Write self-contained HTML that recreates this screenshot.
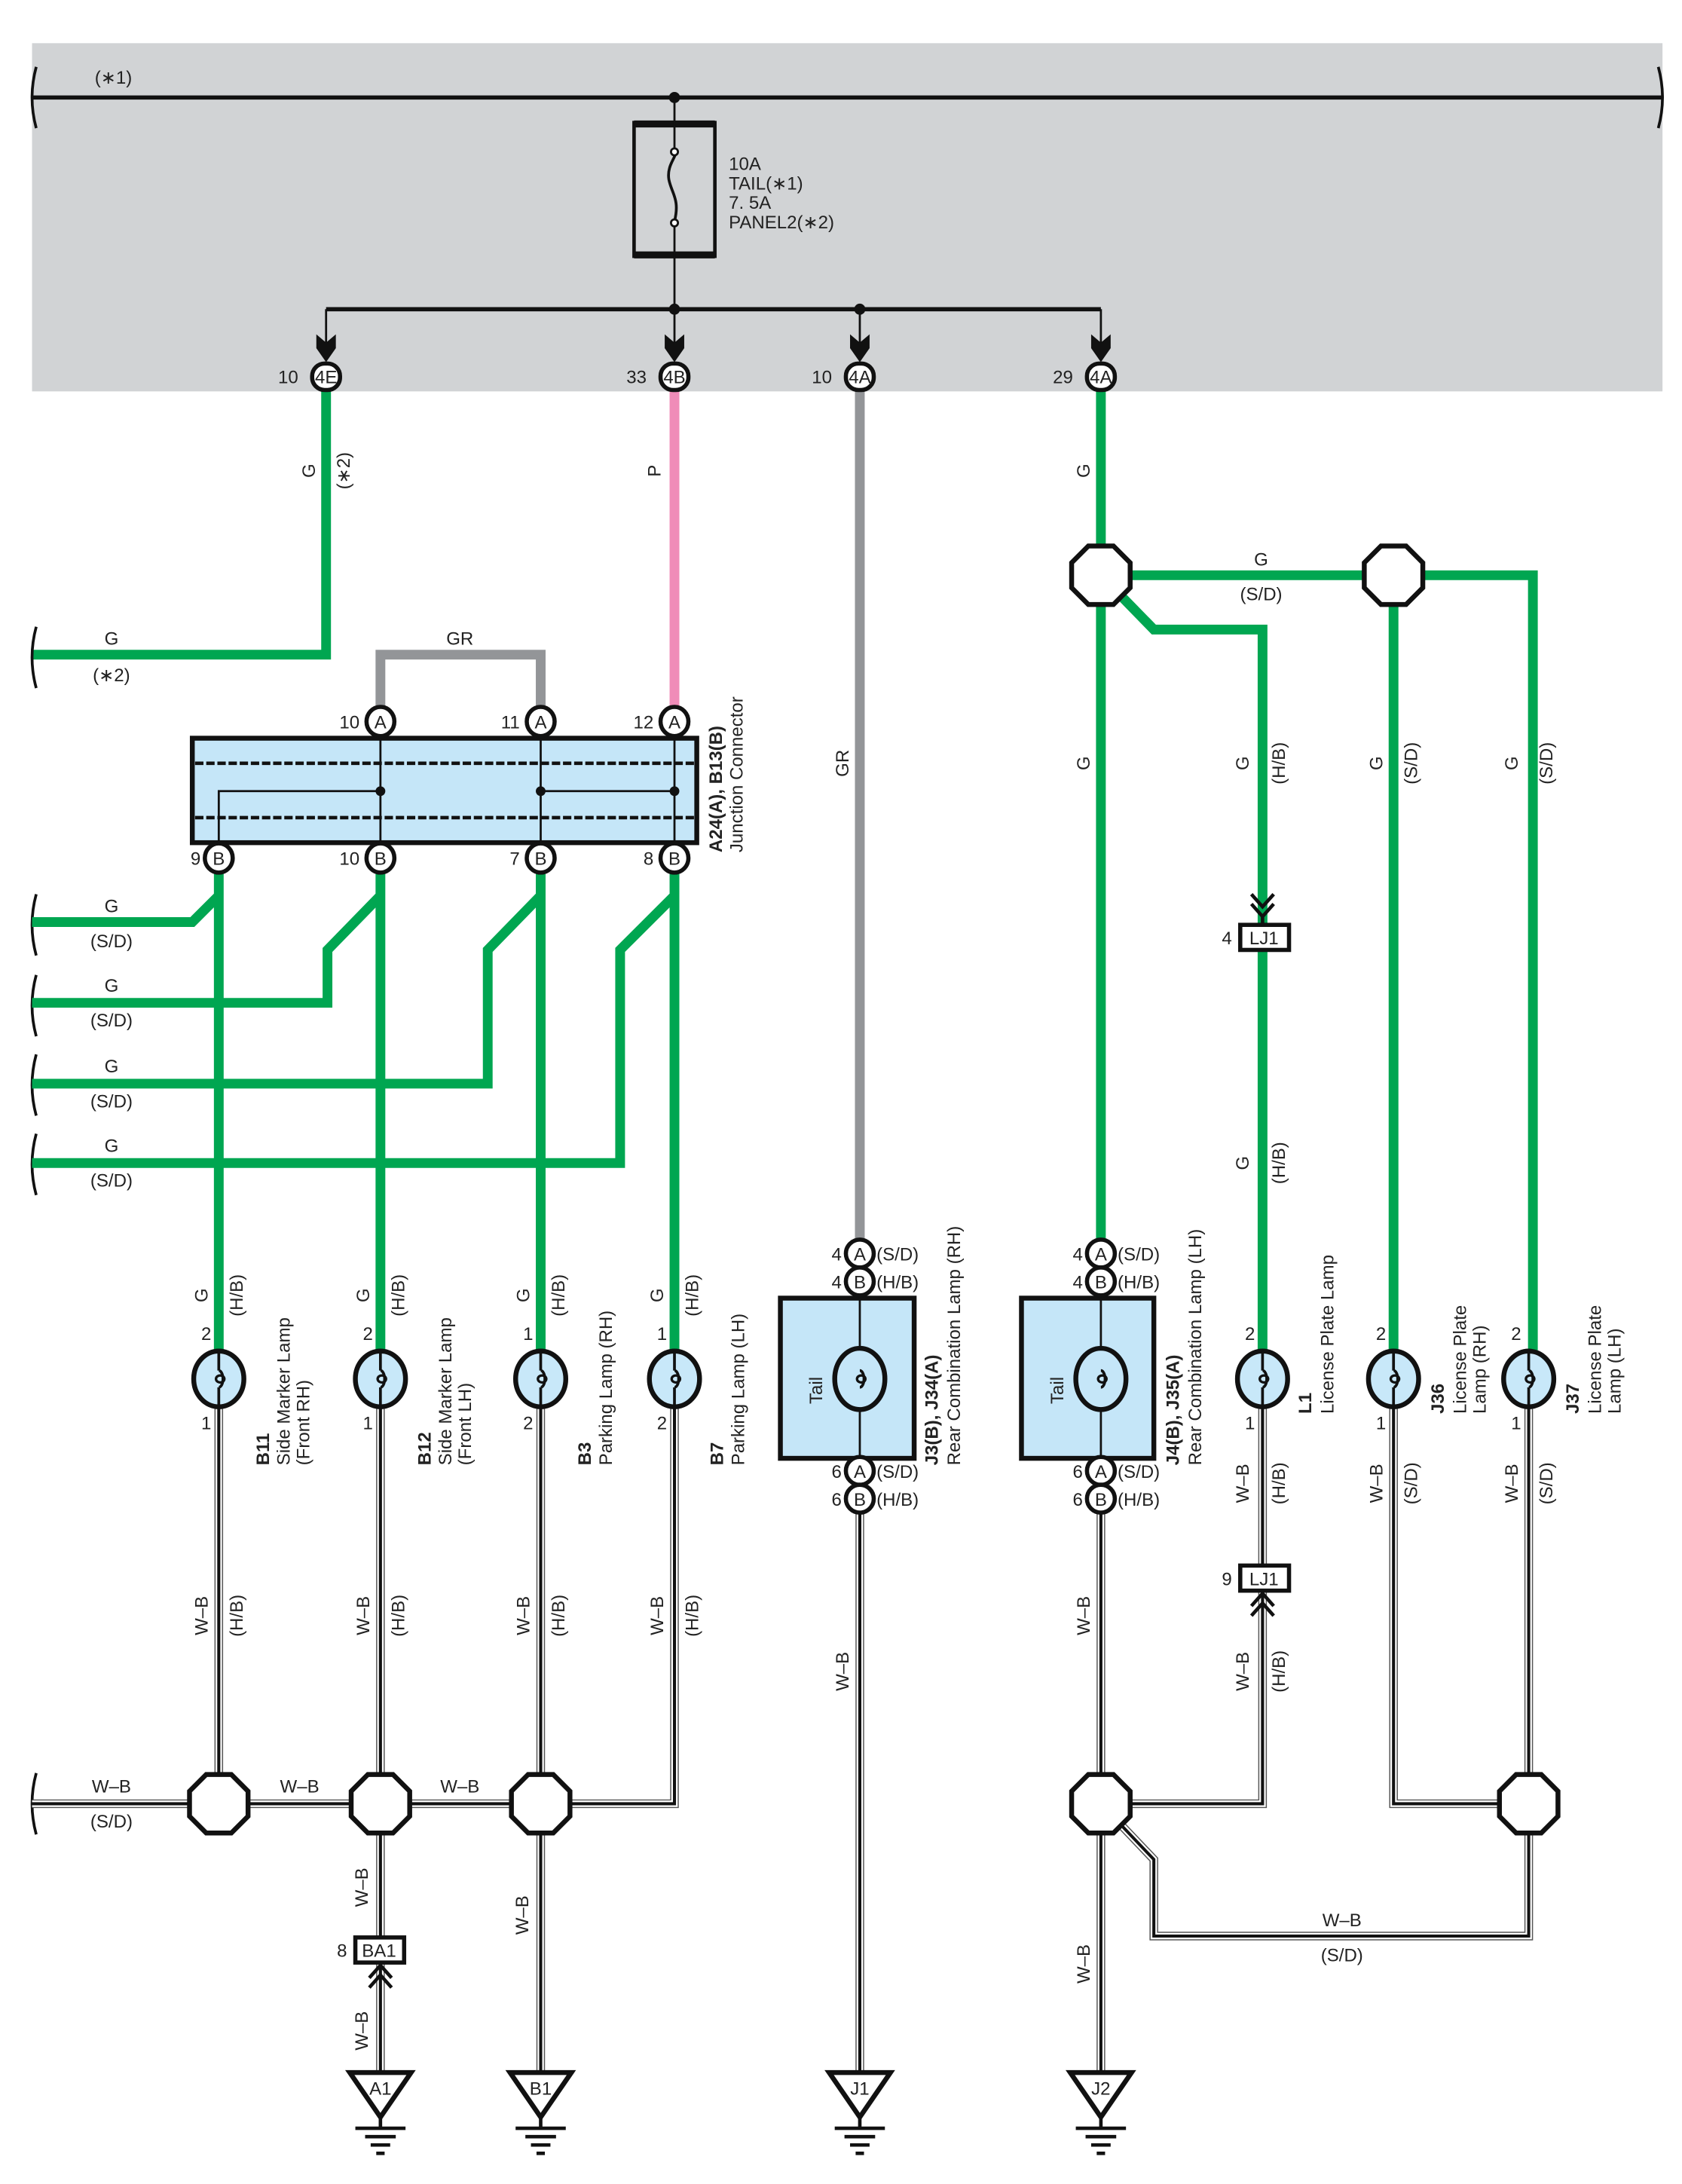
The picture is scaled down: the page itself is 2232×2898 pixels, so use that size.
<!DOCTYPE html>
<html><head><meta charset="utf-8"><style>
html,body{margin:0;padding:0;background:#fff}
svg{display:block}
text{font-family:"Liberation Sans",sans-serif;font-size:13px;fill:#222}
.b{font-weight:bold}
.m{text-anchor:middle}
.g{stroke:#00a651;stroke-width:7;fill:none;stroke-linejoin:miter}
.wo{stroke:#555;stroke-width:6.2;fill:none}
.ww{stroke:#fff;stroke-width:4.6;fill:none}
.wc{stroke:#111;stroke-width:2.2;fill:none}
.k{stroke:#111;fill:none}
</style></head><body>
<svg width="2232" height="2898" viewBox="0 0 1207 1568" preserveAspectRatio="none" xmlns="http://www.w3.org/2000/svg">
<defs>
<polygon id="oct" points="-9,-21 9,-21 21,-9 21,9 9,21 -9,21 -21,9 -21,-9" fill="#fff" stroke="#111" stroke-width="3.5"/>
<g id="lamp"><ellipse rx="18" ry="20" fill="#c8e8f9" stroke="#111" stroke-width="3.5"/><path d="M0,-20 V-6 M0,6 V20 M0,-6 a3,6 0 1 1 0,12" stroke="#111" stroke-width="2" fill="none"/><ellipse cx="1" cy="0" rx="3" ry="2.5" fill="none" stroke="#111" stroke-width="1.8"/></g>
<g id="gnd"><path d="M-22,0 H22 L0,32 Z" fill="#fff" stroke="#111" stroke-width="3.5" stroke-linejoin="miter"/><path d="M0,32 V40 M-18,40 H18 M-11,46 H11 M-7,52 H7 M-3,58 H3" stroke="#111" stroke-width="2.5"/></g>
<path id="w1" d="M157,1010 V1295"/>
<path id="w2" d="M273,1010 V1490"/>
<path id="w3" d="M388,1010 V1490"/>
<path id="w4" d="M484,1010 V1295 H388"/>
<path id="w5" d="M23,1295 H388"/>
<path id="w6" d="M617,1086 V1490"/>
<path id="w7" d="M790,1086 V1490"/>
<path id="w8" d="M906,1010 V1124 M906,1142 V1295 H790"/>
<path id="w9" d="M790,1295 L828,1335 V1390 H1097 V1295"/>
<path id="w10" d="M1000,1010 V1295 H1097"/>
<path id="w11" d="M1097,1010 V1295"/>
</defs>

<rect x="23" y="31" width="1170" height="250" fill="#d1d3d5"/>
<path d="M23,70 H1193" stroke="#111" stroke-width="3"/>
<path d="M26,48 q-6,22 0,44 M1190,48 q6,22 0,44" class="k" stroke-width="2"/>
<text x="68" y="60">(∗1)</text>
<circle cx="484" cy="70" r="4" fill="#111"/>
<rect x="455" y="88" width="58" height="96" fill="none" stroke="#111" stroke-width="2.5"/>
<path d="M455,89 H513 M455,183 H513" stroke="#111" stroke-width="5"/>
<path d="M484,70 V107 M484,163 V222" stroke="#111" stroke-width="1.5"/>
<path d="M484,107 c4,4 -6,10 -4,22 c2,10 8,14 4,30" class="k" stroke-width="2"/>
<circle cx="484" cy="109" r="2.5" fill="#fff" stroke="#111" stroke-width="1.5"/>
<circle cx="484" cy="160" r="2.5" fill="#fff" stroke="#111" stroke-width="1.5"/>
<text x="523" y="122">10A</text><text x="523" y="136">TAIL(∗1)</text><text x="523" y="150">7. 5A</text><text x="523" y="164">PANEL2(∗2)</text>
<path d="M234,222 H790" stroke="#111" stroke-width="3"/>
<circle cx="484" cy="222" r="4" fill="#111"/><circle cx="617" cy="222" r="4" fill="#111"/>
<path d="M234,222 V258 M484,222 V258 M617,222 V258 M790,222 V258" stroke="#111" stroke-width="1.5"/>
<path d="M227,240 L234,246 L241,240 L241,250 L234,260 L227,250 Z M477,240 L484,246 L491,240 L491,250 L484,260 L477,250 Z M610,240 L617,246 L624,240 L624,250 L617,260 L610,250 Z M783,240 L790,246 L797,240 L797,250 L790,260 L783,250 Z" fill="#111"/>

<path class="g" d="M234,280 V470 H23"/>
<path d="M484,280 V510" stroke="#f08cb8" stroke-width="7"/>
<path d="M617,280 V890" stroke="#939598" stroke-width="7"/>
<path d="M273,510 V470 H388 V510" stroke="#939598" stroke-width="7" fill="none"/>
<path class="g" d="M790,280 V890"/>
<path class="g" d="M790,413 H1100 V970"/>
<path class="g" d="M1000,413 V970"/>
<path class="g" d="M790,413 L828,452 H906 V970"/>
<path d="M26,450 q-6,22 0,44 M26,642 q-6,22 0,44 M26,700 q-6,22 0,44 M26,757 q-6,22 0,44 M26,814 q-6,22 0,44 M26,1273 q-6,22 0,44" class="k" stroke-width="2"/>
<path class="g" d="M157,616 V970 M157,643 L138,662 H23"/>
<path class="g" d="M273,616 V970 M273,643 L235,682 V720 H23"/>
<path class="g" d="M388,616 V970 M388,643 L350,682 V778 H23"/>
<path class="g" d="M484,616 V970 M484,643 L445,682 V835 H23"/>

<rect x="138" y="530" width="362" height="75" fill="#c5e6f8" stroke="#111" stroke-width="3.5"/>
<path d="M140,548 H498 M140,587 H498" stroke="#111" stroke-width="2.5" stroke-dasharray="6,2"/>
<path d="M273,518 V616 M388,518 V616 M484,518 V616 M157,616 V568 H273 M388,568 H484" stroke="#111" stroke-width="1.5" fill="none"/>
<circle cx="273" cy="568" r="3.5" fill="#111"/><circle cx="388" cy="568" r="3.5" fill="#111"/><circle cx="484" cy="568" r="3.5" fill="#111"/>

<g>
<use href="#w1" class="wo"/><use href="#w2" class="wo"/><use href="#w3" class="wo"/><use href="#w4" class="wo"/><use href="#w5" class="wo"/><use href="#w6" class="wo"/><use href="#w7" class="wo"/><use href="#w8" class="wo"/><use href="#w9" class="wo"/><use href="#w10" class="wo"/><use href="#w11" class="wo"/>
<use href="#w1" class="ww"/><use href="#w2" class="ww"/><use href="#w3" class="ww"/><use href="#w4" class="ww"/><use href="#w5" class="ww"/><use href="#w6" class="ww"/><use href="#w7" class="ww"/><use href="#w8" class="ww"/><use href="#w9" class="ww"/><use href="#w10" class="ww"/><use href="#w11" class="ww"/>
<use href="#w1" class="wc"/><use href="#w2" class="wc"/><use href="#w3" class="wc"/><use href="#w4" class="wc"/><use href="#w5" class="wc"/><use href="#w6" class="wc"/><use href="#w7" class="wc"/><use href="#w8" class="wc"/><use href="#w9" class="wc"/><use href="#w10" class="wc"/><use href="#w11" class="wc"/>
</g>

<use href="#oct" x="790" y="413"/><use href="#oct" x="1000" y="413"/>
<use href="#oct" x="157" y="1295"/><use href="#oct" x="273" y="1295"/><use href="#oct" x="388" y="1295"/>
<use href="#oct" x="790" y="1295"/><use href="#oct" x="1097" y="1295"/>

<use href="#lamp" x="157" y="990"/><use href="#lamp" x="273" y="990"/><use href="#lamp" x="388" y="990"/><use href="#lamp" x="484" y="990"/>
<use href="#lamp" x="906" y="990"/><use href="#lamp" x="1000" y="990"/><use href="#lamp" x="1097" y="990"/>
<text x="148" y="962" class="m">2</text><text x="148" y="1026" class="m">1</text>
<text x="264" y="962" class="m">2</text><text x="264" y="1026" class="m">1</text>
<text x="379" y="962" class="m">1</text><text x="379" y="1026" class="m">2</text>
<text x="475" y="962" class="m">1</text><text x="475" y="1026" class="m">2</text>
<text x="897" y="962" class="m">2</text><text x="897" y="1026" class="m">1</text>
<text x="991" y="962" class="m">2</text><text x="991" y="1026" class="m">1</text>
<text x="1088" y="962" class="m">2</text><text x="1088" y="1026" class="m">1</text>

<rect x="560" y="932" width="96" height="115" fill="#c5e6f8" stroke="#111" stroke-width="3.5"/>
<rect x="733" y="932" width="95" height="115" fill="#c5e6f8" stroke="#111" stroke-width="3.5"/>
<path d="M617,910 V1066 M790,910 V1066" stroke="#111" stroke-width="1.5"/>
<g transform="translate(617,990)"><ellipse rx="18" ry="22" fill="#c5e6f8" stroke="#111" stroke-width="3.5"/><path d="M0,-6 a3,6 0 1 1 0,12" stroke="#111" stroke-width="2" fill="#c5e6f8"/><ellipse cx="1" rx="3" ry="2.5" fill="none" stroke="#111" stroke-width="1.8"/></g>
<g transform="translate(790,990)"><ellipse rx="18" ry="22" fill="#c5e6f8" stroke="#111" stroke-width="3.5"/><path d="M0,-6 a3,6 0 1 1 0,12" stroke="#111" stroke-width="2" fill="#c5e6f8"/><ellipse cx="1" rx="3" ry="2.5" fill="none" stroke="#111" stroke-width="1.8"/></g>
<text transform="translate(590,1008) rotate(-90)">Tail</text>
<text transform="translate(763,1008) rotate(-90)">Tail</text>

<g fill="#fff" stroke="#111" stroke-width="3">
<rect x="224" y="261" width="20" height="19" rx="9"/><rect x="474" y="261" width="20" height="19" rx="9"/><rect x="607" y="261" width="20" height="19" rx="9"/><rect x="780" y="261" width="20" height="19" rx="9"/>
<ellipse cx="273" cy="518" rx="10" ry="10.5"/><ellipse cx="388" cy="518" rx="10" ry="10.5"/><ellipse cx="484" cy="518" rx="10" ry="10.5"/>
<ellipse cx="157" cy="616" rx="10" ry="10.5"/><ellipse cx="273" cy="616" rx="10" ry="10.5"/><ellipse cx="388" cy="616" rx="10" ry="10.5"/><ellipse cx="484" cy="616" rx="10" ry="10.5"/>
<ellipse cx="617" cy="900" rx="10" ry="10"/><ellipse cx="617" cy="920" rx="10" ry="10"/><ellipse cx="617" cy="1056" rx="10" ry="10"/><ellipse cx="617" cy="1076" rx="10" ry="10"/>
<ellipse cx="790" cy="900" rx="10" ry="10"/><ellipse cx="790" cy="920" rx="10" ry="10"/><ellipse cx="790" cy="1056" rx="10" ry="10"/><ellipse cx="790" cy="1076" rx="10" ry="10"/>
<rect x="890" y="664" width="35" height="18"/><rect x="890" y="1124" width="35" height="18"/><rect x="255" y="1391" width="35" height="18"/>
</g>
<g class="m">
<text x="234" y="275">4E</text><text x="484" y="275">4B</text><text x="617" y="275">4A</text><text x="790" y="275">4A</text>
<text x="273" y="523">A</text><text x="388" y="523">A</text><text x="484" y="523">A</text>
<text x="157" y="621">B</text><text x="273" y="621">B</text><text x="388" y="621">B</text><text x="484" y="621">B</text>
<text x="617" y="905">A</text><text x="617" y="925">B</text><text x="617" y="1061">A</text><text x="617" y="1081">B</text>
<text x="790" y="905">A</text><text x="790" y="925">B</text><text x="790" y="1061">A</text><text x="790" y="1081">B</text>
<text x="907" y="678">LJ1</text><text x="907" y="1138">LJ1</text><text x="272" y="1405">BA1</text>
</g>
<g style="text-anchor:end">
<text x="214" y="275">10</text><text x="464" y="275">33</text><text x="597" y="275">10</text><text x="770" y="275">29</text>
<text x="258" y="523">10</text><text x="373" y="523">11</text><text x="469" y="523">12</text>
<text x="144" y="621">9</text><text x="258" y="621">10</text><text x="373" y="621">7</text><text x="469" y="621">8</text>
<text x="604" y="905">4</text><text x="604" y="925">4</text><text x="604" y="1061">6</text><text x="604" y="1081">6</text>
<text x="777" y="905">4</text><text x="777" y="925">4</text><text x="777" y="1061">6</text><text x="777" y="1081">6</text>
<text x="884" y="678">4</text><text x="884" y="1138">9</text><text x="249" y="1405">8</text>
</g>
<text x="629" y="905">(S/D)</text><text x="629" y="925">(H/B)</text><text x="629" y="1061">(S/D)</text><text x="629" y="1081">(H/B)</text>
<text x="802" y="905">(S/D)</text><text x="802" y="925">(H/B)</text><text x="802" y="1061">(S/D)</text><text x="802" y="1081">(H/B)</text>

<path d="M898,642 L906,651 L914,642 M898,649 L906,658 L914,649 M906,658 V664" stroke="#111" stroke-width="2.5" fill="none"/>
<path d="M898,1160 L906,1151 L914,1160 M898,1153 L906,1144 L914,1153" stroke="#111" stroke-width="2.5" fill="none"/>
<path d="M265,1427 L273,1418 L281,1427 M265,1420 L273,1411 L281,1420" stroke="#111" stroke-width="2.5" fill="none"/>

<use href="#gnd" x="273" y="1488"/><use href="#gnd" x="388" y="1488"/><use href="#gnd" x="617" y="1488"/><use href="#gnd" x="790" y="1488"/>
<g class="m"><text x="273" y="1504">A1</text><text x="388" y="1504">B1</text><text x="617" y="1504">J1</text><text x="790" y="1504">J2</text></g>

<g class="m">
<text x="80" y="463">G</text><text x="80" y="489">(∗2)</text>
<text x="330" y="463">GR</text>
<text x="80" y="655">G</text><text x="80" y="680">(S/D)</text>
<text x="80" y="712">G</text><text x="80" y="737">(S/D)</text>
<text x="80" y="770">G</text><text x="80" y="795">(S/D)</text>
<text x="80" y="827">G</text><text x="80" y="852">(S/D)</text>
<text x="905" y="406">G</text><text x="905" y="431">(S/D)</text>
<text x="80" y="1287">W–B</text><text x="80" y="1312">(S/D)</text>
<text x="215" y="1287">W–B</text><text x="330" y="1287">W–B</text>
<text x="963" y="1383">W–B</text><text x="963" y="1408">(S/D)</text>
</g>

<g class="m">
<text transform="translate(226,338) rotate(-90)">G</text><text transform="translate(251,338) rotate(-90)">(∗2)</text>
<text transform="translate(474,338) rotate(-90)">P</text>
<text transform="translate(609,548) rotate(-90)">GR</text>
<text transform="translate(782,338) rotate(-90)">G</text>
<text transform="translate(782,548) rotate(-90)">G</text>
<text transform="translate(896,548) rotate(-90)">G</text><text transform="translate(922,548) rotate(-90)">(H/B)</text>
<text transform="translate(992,548) rotate(-90)">G</text><text transform="translate(1017,548) rotate(-90)">(S/D)</text>
<text transform="translate(1089,548) rotate(-90)">G</text><text transform="translate(1114,548) rotate(-90)">(S/D)</text>
<text transform="translate(896,835) rotate(-90)">G</text><text transform="translate(922,835) rotate(-90)">(H/B)</text>
<text transform="translate(149,930) rotate(-90)">G</text><text transform="translate(174,930) rotate(-90)">(H/B)</text>
<text transform="translate(265,930) rotate(-90)">G</text><text transform="translate(290,930) rotate(-90)">(H/B)</text>
<text transform="translate(380,930) rotate(-90)">G</text><text transform="translate(405,930) rotate(-90)">(H/B)</text>
<text transform="translate(476,930) rotate(-90)">G</text><text transform="translate(501,930) rotate(-90)">(H/B)</text>
<text transform="translate(149,1160) rotate(-90)">W–B</text><text transform="translate(174,1160) rotate(-90)">(H/B)</text>
<text transform="translate(265,1160) rotate(-90)">W–B</text><text transform="translate(290,1160) rotate(-90)">(H/B)</text>
<text transform="translate(380,1160) rotate(-90)">W–B</text><text transform="translate(405,1160) rotate(-90)">(H/B)</text>
<text transform="translate(476,1160) rotate(-90)">W–B</text><text transform="translate(501,1160) rotate(-90)">(H/B)</text>
<text transform="translate(896,1065) rotate(-90)">W–B</text><text transform="translate(922,1065) rotate(-90)">(H/B)</text>
<text transform="translate(896,1200) rotate(-90)">W–B</text><text transform="translate(922,1200) rotate(-90)">(H/B)</text>
<text transform="translate(992,1065) rotate(-90)">W–B</text><text transform="translate(1017,1065) rotate(-90)">(S/D)</text>
<text transform="translate(1089,1065) rotate(-90)">W–B</text><text transform="translate(1114,1065) rotate(-90)">(S/D)</text>
<text transform="translate(609,1200) rotate(-90)">W–B</text>
<text transform="translate(782,1160) rotate(-90)">W–B</text>
<text transform="translate(264,1355) rotate(-90)">W–B</text>
<text transform="translate(264,1458) rotate(-90)">W–B</text>
<text transform="translate(379,1375) rotate(-90)">W–B</text>
<text transform="translate(782,1410) rotate(-90)">W–B</text>
</g>

<text transform="translate(518,612) rotate(-90)" class="b">A24(A), B13(B)</text>
<text transform="translate(533,612) rotate(-90)">Junction Connector</text>
<text transform="translate(193,1052) rotate(-90)" class="b">B11</text>
<text transform="translate(208,1052) rotate(-90)">Side Marker Lamp</text>
<text transform="translate(222,1052) rotate(-90)">(Front RH)</text>
<text transform="translate(309,1052) rotate(-90)" class="b">B12</text>
<text transform="translate(324,1052) rotate(-90)">Side Marker Lamp</text>
<text transform="translate(338,1052) rotate(-90)">(Front LH)</text>
<text transform="translate(424,1052) rotate(-90)" class="b">B3</text>
<text transform="translate(439,1052) rotate(-90)">Parking Lamp (RH)</text>
<text transform="translate(519,1052) rotate(-90)" class="b">B7</text>
<text transform="translate(534,1052) rotate(-90)">Parking Lamp (LH)</text>
<text transform="translate(673,1052) rotate(-90)" class="b">J3(B), J34(A)</text>
<text transform="translate(689,1052) rotate(-90)">Rear Combination Lamp (RH)</text>
<text transform="translate(846,1052) rotate(-90)" class="b">J4(B), J35(A)</text>
<text transform="translate(862,1052) rotate(-90)">Rear Combination Lamp (LH)</text>
<text transform="translate(941,1015) rotate(-90)" class="b">L1</text>
<text transform="translate(957,1015) rotate(-90)">License Plate Lamp</text>
<text transform="translate(1036,1015) rotate(-90)" class="b">J36</text>
<text transform="translate(1052,1015) rotate(-90)">License Plate</text>
<text transform="translate(1066,1015) rotate(-90)">Lamp (RH)</text>
<text transform="translate(1133,1015) rotate(-90)" class="b">J37</text>
<text transform="translate(1149,1015) rotate(-90)">License Plate</text>
<text transform="translate(1163,1015) rotate(-90)">Lamp (LH)</text>
</svg>
</body></html>
